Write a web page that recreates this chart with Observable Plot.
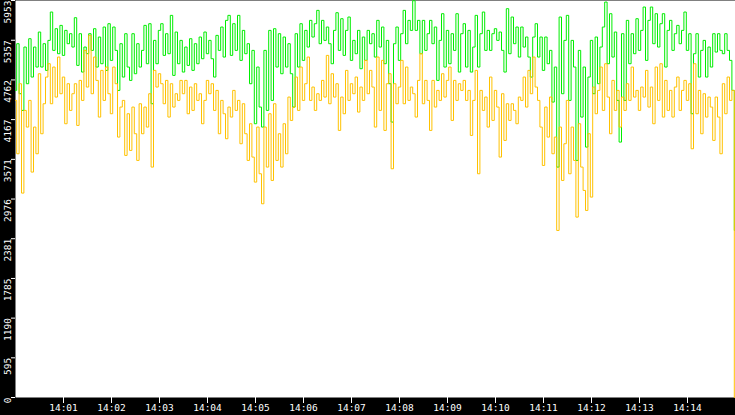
<!DOCTYPE html>
<html>
<head>
<meta charset="utf-8">
<script src="https://cdn.jsdelivr.net/npm/d3@7"></script>
<script src="https://cdn.jsdelivr.net/npm/@observablehq/plot@0.6"></script>
<style>
  html, body { margin: 0; padding: 0; background: #000; overflow: hidden; }
</style>
</head>
<body>
<div id="chart"></div>
<script>
const startTime = "14:00:00";
const endTime = "14:15:00";
const yTicks = [0, 595, 1190, 1785, 2381, 2976, 3571, 4167, 4762, 5357, 5953];
const xTickLabels = ["14:01","14:02","14:03","14:04","14:05","14:06","14:07","14:08","14:09","14:10","14:11","14:12","14:13","14:14"];

const green = [
4605,5305,4555,4305,5255,4705,5380,4805,5255,4955,5480,4955,5305,4905,5355,5780,5205,5530,5155,5580,
5130,5505,5305,5455,5255,5695,4980,5455,4880,5255,5155,5455,5205,5530,4955,5405,5005,5555,4905,5605,
5055,5555,5205,4605,5305,4805,5455,4955,4755,5455,4855,5305,4955,5205,5580,5005,5605,4405,5355,5005,
5505,5605,5130,5455,5155,5730,4830,5480,5005,5355,4880,5255,4980,5380,4905,5305,5005,5405,5080,5480,
5155,5355,5080,4805,5430,5205,5555,5105,5655,5730,5130,5605,5205,5730,5055,5505,5155,5305,4705,5205,
4105,4955,4355,4055,5205,4305,5505,4455,5530,4955,5455,4855,5405,4955,5305,4855,4355,5455,4955,5605,
5055,5505,5255,5655,5405,5605,5805,5305,5655,5355,5555,5305,5005,5505,5770,5205,5680,5130,5505,5705,
5055,5355,5155,5505,4930,5405,5055,5505,5305,5455,
5105,5655,5255,5555,5005,5355,4705,4130,5305,5555,5055,5455,5805,5305,5655,5505,5950,5505,5655,5155,
5655,5205,5455,5655,5305,5555,4755,5355,5755,4955,5505,5005,5455,5205,5755,4880,5455,5605,4955,5505,
4880,5255,5730,4955,5455,5780,5205,5505,5205,5455,5530,5355,5480,5205,4880,5830,5155,5705,5305,5555,
5105,5555,5255,5405,5105,4805,5405,5605,5105,5405,4905,5405,5005,5205,4430,4955,3455,5705,4555,5355,
5730,4455,5355,4955,3555,5205,4205,4955,3755,4805,5355,4555,5405,4705,5255,5555,5930,5005,5755,5105,
5480,4455,3830,5455,4455,5655,5005,5455,5155,5680,5205,5505,5855,5055,5655,5855,5305,5755,5255,5605,
5755,4955,5505,5655,5205,5455,5580,5305,5505,5780,5205,5455,4255,5155,5455,4805,5205,5355,4805,5255,
4955,5455,5180,5455,5205,5155,5455,5205,5055,4605,
2505
];

const gold = [
4455,3655,4705,3065,4305,4055,4455,3380,4055,3655,4855,3955,4405,4805,5005,4405,4955,4505,5105,4555,
4805,4105,4705,4305,4555,4705,4080,4755,4455,5205,4655,5430,4555,5105,4755,4205,4905,4455,4955,4555,
4255,4955,4705,3905,4355,4455,3630,4255,3705,4355,3955,3555,4405,3955,4355,4055,4555,3455,4905,4655,
4855,4705,4405,4755,4205,4705,4355,4555,4455,4755,4555,4755,4255,4655,4305,4705,4455,4555,4105,4455,
4755,4555,4705,4305,4605,3955,4455,4255,3880,4355,4205,4605,4305,4455,3805,4405,3955,3555,4105,3605,
3230,4055,3355,2905,4055,3455,4255,3255,4405,3555,3955,3455,4105,3655,4505,4155,4355,4805,4305,4955,
4455,4705,5105,4455,4655,4305,4555,4455,4755,4505,5130,4405,4855,4505,4705,4005,4505,4255,4905,4455,
4705,4555,4805,4280,4655,4455,5055,4555,4905,4655,
4055,5105,4305,5055,4005,4705,4855,3430,4705,4405,4655,5055,4405,4955,4455,4655,4555,4205,4755,5155,
4405,4755,4455,4005,4755,4355,4605,4455,4855,4505,4755,4955,4155,4755,4455,4705,4605,4755,4455,4605,
3930,4455,4905,3355,4605,4305,4505,4055,4805,4155,4605,4355,3605,4555,3855,4405,4155,4405,4305,4105,
4505,4455,4805,4355,4905,4555,5105,4655,4455,4055,3480,4355,3905,4505,3655,3905,2505,4055,3255,3805,
4455,3355,4055,3555,2705,4105,3455,3105,2805,3955,3005,4655,4255,4605,4955,4305,5005,4505,3955,4755,
4305,4605,4055,4505,4305,4705,4455,4955,4505,4605,4305,4655,4505,4905,4355,4655,4105,4955,4455,5005,
4205,4755,4305,4605,4205,4655,4805,4305,4605,4755,4455,4705,3730,5005,4255,4605,3955,4555,4205,4505,
4355,3855,4505,4205,3655,4705,4255,4805,4455,4605,
0
];

const day = "2020-01-01T";
const t0 = new Date(day + startTime + "Z");
const t1 = new Date(day + endTime + "Z");
function rows(values) {
  const step = (t1 - t0) / (values.length - 1);
  return values.map((v, i) => ({t: new Date(+t0 + i * step), v}));
}
const xTicks = xTickLabels.map(s => new Date(day + s + ":00Z"));
const fmt = d3.utcFormat("%H:%M");

const chart = Plot.plot({
  width: 735,
  height: 415,
  marginLeft: 15,
  marginRight: 0,
  marginTop: 0,
  marginBottom: 18,
  x: {type: "utc", domain: [t0, t1], label: null},
  y: {domain: [0, 5953], label: null},
  style: {background: "#000", color: "#fff", fontFamily: "DejaVu Sans Mono", fontSize: "9.5px", overflow: "hidden"},
  marks: [
    Plot.frame({fill: "#fff", stroke: "none"}),
    Plot.lineY(rows(green), {x: "t", y: "v", stroke: "#00ee00", strokeWidth: 1, curve: "step"}),
    Plot.lineY(rows(gold), {x: "t", y: "v", stroke: "#ffc200", strokeWidth: 1, curve: "step"}),
    Plot.axisX({ticks: xTicks, tickFormat: fmt, tickSize: 6, tickPadding: 1, stroke: "#fff", fill: "#fff", label: null}),
    Plot.axisY({ticks: yTicks, tickSize: 4, tickFormat: () => "", stroke: "#fff", label: null}),
    Plot.text(yTicks, {y: d => d, text: d => String(d), frameAnchor: "left", dx: -8, rotate: -90, textAnchor: "end", fill: "#fff", fontSize: 9.5, fontFamily: "DejaVu Sans Mono"})
  ]
});
document.getElementById("chart").appendChild(chart);
</script>
</body>
</html>
